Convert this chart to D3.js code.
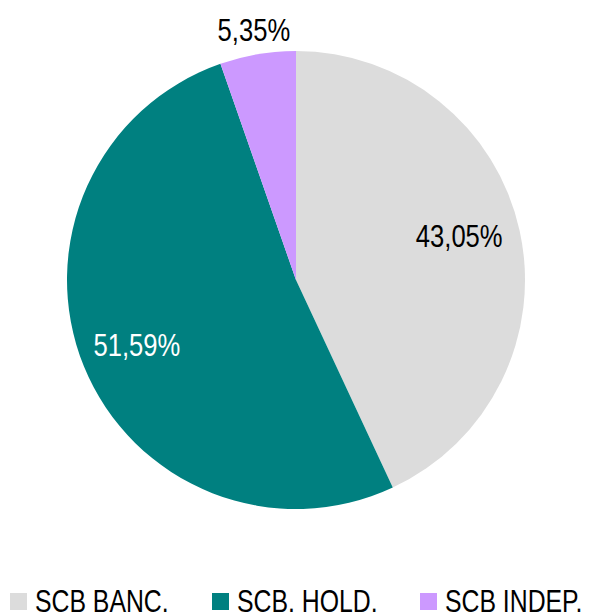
<!DOCTYPE html>
<html>
<head>
<meta charset="utf-8">
<script src="https://cdn.jsdelivr.net/npm/d3@7"></script>
<style>
  html, body { margin: 0; padding: 0; background: #fff; }
  svg { display: block; font-family: "Liberation Sans Narrow", "Arial Narrow", "Liberation Sans", Arial, sans-serif; }
</style>
</head>
<body>
<svg id="chart"></svg>
<script>
const categories = ["SCB BANC.", "SCB. HOLD.", "SCB INDEP."]
const values = [43.05, 51.59, 5.35]
const labels = ["43,05%", "51,59%", "5,35%"]
const colors = ["#dcdcdc", "#008080", "#cc99ff"]
const labelColors = ["#000", "#fff", "#000"]

const width = 595, height = 613
const cx = 296, cy = 280, radius = 229
// no narrow font installed, so squeeze the regular one horizontally
const squeeze = 0.8

const svg = d3.select("#chart")
    .attr("width", width)
    .attr("height", height)

const pie = d3.pie().sort(null).value(d => d)
const arcs = pie(values)
const arc = d3.arc().innerRadius(0).outerRadius(radius)

const g = svg.append("g").attr("transform", `translate(${cx},${cy})`)

g.selectAll("path")
    .data(arcs)
    .join("path")
    .attr("d", arc)
    .attr("fill", (d, i) => colors[i])

// label radius as a fraction of the pie radius (small slice goes outside)
const labelRadius = [0.73, 0.75, 1.1]
const labelShift = [-8, 0, -2]

g.selectAll("text.lbl")
    .data(arcs)
    .join("text")
    .attr("class", "lbl")
    .attr("transform", (d, i) => {
        const r = radius * labelRadius[i]
        const [x, y] = d3.arc().innerRadius(r).outerRadius(r).centroid(d)
        return `translate(${x},${y + labelShift[i]}) scale(${squeeze},1)`
    })
    .attr("text-anchor", "middle")
    .attr("dy", "0.35em")
    .attr("font-size", 32)
    .attr("fill", (d, i) => labelColors[i])
    .text((d, i) => labels[i])

// legend, right at the bottom edge
const legendX = [10, 212, 420]
const legend = svg.append("g")
    .selectAll("g")
    .data(categories)
    .join("g")
    .attr("transform", (d, i) => `translate(${legendX[i]},593)`)

legend.append("rect")
    .attr("width", 17)
    .attr("height", 17)
    .attr("fill", (d, i) => colors[i])

legend.append("text")
    .attr("transform", `translate(25,19) scale(${squeeze},1)`)
    .attr("font-size", 31)
    .attr("fill", "#000")
    .text(d => d)
</script>
</body>
</html>
